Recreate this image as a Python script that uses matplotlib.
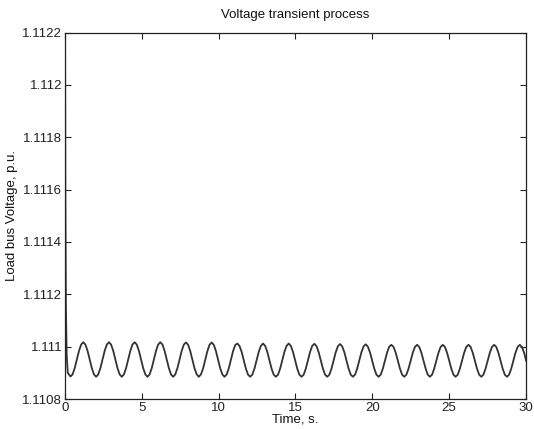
import numpy as np
import matplotlib
matplotlib.use("Agg")
import matplotlib.pyplot as plt

plt.rcParams['font.family'] = ['Liberation Sans', 'DejaVu Sans']

# sample times (s): start of the transient, then a regular sampling grid
time_start = [0.0, 0.025, 0.06, 0.11, 0.18]
time_grid = [round(0.076 + i * 0.13925, 4) for i in range(2, 216)]
time_s = time_start + time_grid

# load bus voltage (p.u.)
voltage = [
    1.1124, 1.1116, 1.11115, 1.11097, 1.1109,
    1.110886, 1.110894, 1.110918, 1.110951, 1.110984, 1.111008,
    # cycles 1-6
    1.111017, 1.111008, 1.110984, 1.110951, 1.110918, 1.110894, 1.110885, 1.110894, 1.110918, 1.110951, 1.110984, 1.111008,
    1.111017, 1.111008, 1.110984, 1.110951, 1.110918, 1.110894, 1.110885, 1.110894, 1.110918, 1.110951, 1.110984, 1.111008,
    1.111017, 1.111008, 1.110984, 1.110951, 1.110918, 1.110894, 1.110885, 1.110894, 1.110918, 1.110951, 1.110984, 1.111008,
    1.111017, 1.111008, 1.110984, 1.110951, 1.110918, 1.110894, 1.110885, 1.110894, 1.110918, 1.110951, 1.110984, 1.111008,
    1.111016, 1.111007, 1.110983, 1.110950, 1.110917, 1.110894, 1.110885, 1.110894, 1.110917, 1.110950, 1.110983, 1.111007,
    1.111016, 1.111007, 1.110983, 1.110950, 1.110917, 1.110894, 1.110885, 1.110894, 1.110917, 1.110950, 1.110983, 1.111006,
    # cycles 7-12
    1.111012, 1.111003, 1.110980, 1.110948, 1.110916, 1.110893, 1.110885, 1.110893, 1.110916, 1.110948, 1.110980, 1.111003,
    1.111012, 1.111003, 1.110980, 1.110948, 1.110916, 1.110893, 1.110885, 1.110893, 1.110916, 1.110948, 1.110980, 1.111003,
    1.111012, 1.111003, 1.110980, 1.110948, 1.110916, 1.110893, 1.110885, 1.110893, 1.110916, 1.110948, 1.110980, 1.111003,
    1.111011, 1.111002, 1.110979, 1.110948, 1.110916, 1.110893, 1.110885, 1.110893, 1.110916, 1.110948, 1.110979, 1.111002,
    1.111010, 1.111001, 1.110979, 1.110947, 1.110916, 1.110893, 1.110885, 1.110893, 1.110916, 1.110947, 1.110979, 1.111001,
    1.111009, 1.111000, 1.110978, 1.110947, 1.110916, 1.110893, 1.110885, 1.110893, 1.110916, 1.110947, 1.110978, 1.111000,
    # cycles 13-18
    1.111007, 1.110999, 1.110977, 1.110946, 1.110916, 1.110893, 1.110885, 1.110893, 1.110916, 1.110946, 1.110977, 1.110999,
    1.111007, 1.110999, 1.110977, 1.110946, 1.110916, 1.110893, 1.110885, 1.110893, 1.110916, 1.110946, 1.110977, 1.110999,
    1.111007, 1.110999, 1.110977, 1.110946, 1.110916, 1.110893, 1.110885, 1.110893, 1.110916, 1.110946, 1.110977, 1.110999,
    1.111007, 1.110999, 1.110977, 1.110946, 1.110916, 1.110893, 1.110885, 1.110893, 1.110916, 1.110946, 1.110977, 1.110999,
    1.111007, 1.110999, 1.110977, 1.110946, 1.110916, 1.110893, 1.110885, 1.110893, 1.110916, 1.110946, 1.110977, 1.110999,
    1.111007, 1.110999, 1.110977, 1.110946,
]

x_ticks = [0, 5, 10, 15, 20, 25, 30]
y_ticks = [1.1108, 1.1110, 1.1112, 1.1114, 1.1116, 1.1118, 1.1120, 1.1122]
y_tick_labels = ["1.1108", "1.111", "1.1112", "1.1114", "1.1116", "1.1118", "1.112", "1.1122"]

fig = plt.figure(figsize=(5.34, 4.29), dpi=100)
ax = fig.add_axes([0.1217, 0.0699, 0.8633, 0.8543])

ax.plot(time_s, voltage, color="#333333", linewidth=1.3)

ax.set_xlim(0, 30)
ax.set_ylim(1.1108, 1.1122)
ax.set_xticks(x_ticks)
ax.set_xticklabels([str(v) for v in x_ticks])
ax.set_yticks(y_ticks)
ax.set_yticklabels(y_tick_labels)

ax.tick_params(direction="in", top=True, right=True, length=4, width=0.8,
               labelsize=9.5, pad=2, colors="#222222")
for s in ax.spines.values():
    s.set_linewidth(0.9)
    s.set_color("#222222")

ax.set_title("Voltage transient process", fontsize=9.5, pad=10.5, color="#111111")
ax.set_xlabel("Time, s.", fontsize=9.5, labelpad=0, color="#111111")
ax.set_ylabel("Load bus Voltage, p.u.", fontsize=9.5, labelpad=3, color="#111111")

fig.savefig("out.png", dpi=100)
